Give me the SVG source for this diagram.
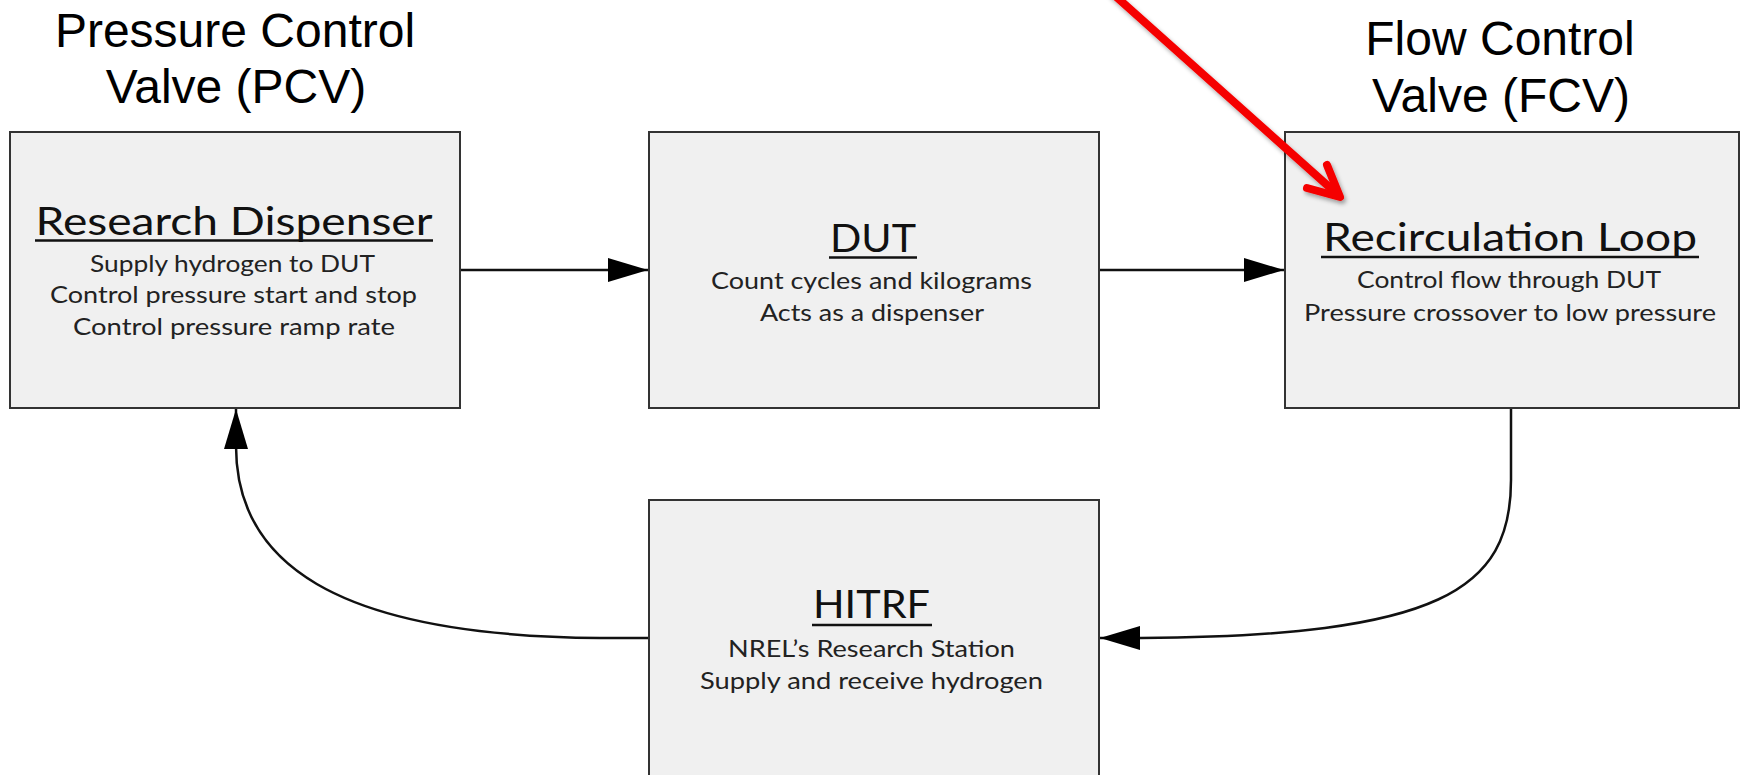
<svg xmlns="http://www.w3.org/2000/svg" width="1742" height="775" viewBox="0 0 1742 775">
  <style>
    .box { fill: #f0f0f0; stroke: #333333; stroke-width: 2; }
    .hdr { font-family: "Liberation Sans", Arial, sans-serif; font-size: 48px; fill: #000; text-anchor: middle; }
    .ttl { font-family: Lato, "Open Sans", sans-serif; font-size: 39px; fill: #111; text-anchor: middle; }
    .txt { font-family: Lato, "Open Sans", sans-serif; font-size: 24px; fill: #222; text-anchor: middle; }
    .ul { stroke: #111; stroke-width: 2.5; }
    .conn { fill: none; stroke: #111; stroke-width: 2.5; }
  </style>
  <defs>
    <marker id="ah" markerUnits="userSpaceOnUse" markerWidth="40" markerHeight="24" refX="40" refY="12" orient="auto">
      <path d="M0,0 L40,12 L0,24 Z" fill="#000"/>
    </marker>
    <filter id="sh" x="-20%" y="-20%" width="140%" height="140%">
      <feDropShadow dx="2" dy="3" stdDeviation="2" flood-color="#000" flood-opacity="0.35"/>
    </filter>
  </defs>

  <rect width="1742" height="775" fill="#fff"/>

  <g id="header-pcv">
    <text class="hdr" x="235" y="47">Pressure Control</text>
    <text class="hdr" x="236" y="103">Valve (PCV)</text>
  </g>
  <g id="header-fcv">
    <text class="hdr" x="1500" y="55">Flow Control</text>
    <text class="hdr" x="1501" y="112">Valve (FCV)</text>
  </g>

  <g id="node-research-dispenser">
    <rect class="box" x="10" y="132" width="450" height="276"/>
    <text class="ttl" x="234" y="235" textLength="397" lengthAdjust="spacingAndGlyphs">Research Dispenser</text>
    <line class="ul" x1="35" y1="240.5" x2="433" y2="240.5"/>
    <text class="txt" x="232.5" y="272" textLength="285" lengthAdjust="spacingAndGlyphs">Supply hydrogen to DUT</text>
    <text class="txt" x="233.5" y="303" textLength="367" lengthAdjust="spacingAndGlyphs">Control pressure start and stop</text>
    <text class="txt" x="234" y="335" textLength="322" lengthAdjust="spacingAndGlyphs">Control pressure ramp rate</text>
  </g>

  <g id="node-dut">
    <rect class="box" x="649" y="132" width="450" height="276"/>
    <text class="ttl" x="873" y="252" textLength="86" lengthAdjust="spacingAndGlyphs">DUT</text>
    <line class="ul" x1="829" y1="257.5" x2="917" y2="257.5"/>
    <text class="txt" x="871.5" y="289" textLength="321" lengthAdjust="spacingAndGlyphs">Count cycles and kilograms</text>
    <text class="txt" x="872" y="321" textLength="224" lengthAdjust="spacingAndGlyphs">Acts as a dispenser</text>
  </g>

  <g id="node-recirculation-loop">
    <rect class="box" x="1285" y="132" width="454" height="276"/>
    <text class="ttl" x="1510" y="251" textLength="374" lengthAdjust="spacingAndGlyphs">Recirculation Loop</text>
    <line class="ul" x1="1321" y1="257" x2="1699" y2="257"/>
    <text class="txt" x="1509" y="288" textLength="304" lengthAdjust="spacingAndGlyphs">Control flow through DUT</text>
    <text class="txt" x="1510" y="321" textLength="412" lengthAdjust="spacingAndGlyphs">Pressure crossover to low pressure</text>
  </g>

  <g id="node-hitrf">
    <rect class="box" x="649" y="500" width="450" height="290"/>
    <text class="ttl" x="871.5" y="618" textLength="117" lengthAdjust="spacingAndGlyphs">HITRF</text>
    <line class="ul" x1="812" y1="625" x2="932" y2="625"/>
    <text class="txt" x="871.5" y="657" textLength="287" lengthAdjust="spacingAndGlyphs">NREL’s Research Station</text>
    <text class="txt" x="871.5" y="689" textLength="343" lengthAdjust="spacingAndGlyphs">Supply and receive hydrogen</text>
  </g>

  <g id="connectors">
    <path class="conn" d="M461,270 L648,270" marker-end="url(#ah)"/>
    <path class="conn" d="M1100,270 L1284,270" marker-end="url(#ah)"/>
    <path class="conn" d="M1511,409 L1511,480 C1511,590 1440,636 1141,638 L1100,638" marker-end="url(#ah)"/>
    <path class="conn" d="M648,638 L600,638 C330,636 236,560 236,446 L236,409" marker-end="url(#ah)"/>
  </g>

  <g id="red-pointer" filter="url(#sh)" fill="none" stroke="#f50000" stroke-linecap="round" stroke-linejoin="round">
    <path d="M1112,-7 L1336,193" stroke-width="8"/>
    <path d="M1327,165 L1340,197 L1307,188" stroke-width="8"/>
  </g>
</svg>
